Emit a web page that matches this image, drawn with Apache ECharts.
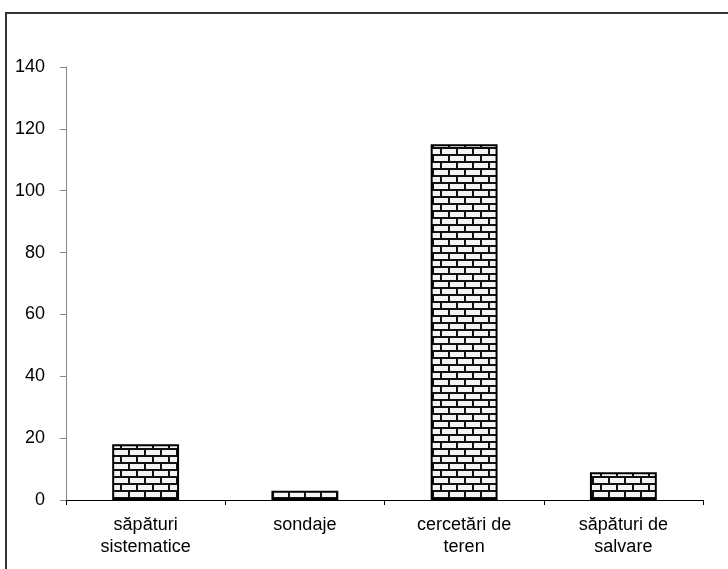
<!DOCTYPE html>
<html><head><meta charset="utf-8">
<script src="https://cdn.jsdelivr.net/npm/echarts@6/dist/echarts.min.js"></script>
<style>html,body{margin:0;padding:0;background:#fff}#c{width:728px;height:569px}</style>
</head><body><div id="c"></div>
<script>
var categories = ['săpături\nsistematice', 'sondaje', 'cercetări de\nteren', 'săpături de\nsalvare'];
var values = [18, 3, 115, 9];
var yTicks = [0, 20, 40, 60, 80, 100, 120, 140];

function brick() {
  var c = document.createElement('canvas');
  c.width = 16; c.height = 14;
  var g = c.getContext('2d');
  g.fillStyle = '#f4f4f4'; g.fillRect(0, 0, 16, 14);
  g.fillStyle = '#111';
  g.fillRect(0, 0, 16, 2);
  g.fillRect(0, 7, 16, 2);
  g.fillRect(0, 0, 2, 7);
  g.fillRect(8, 7, 2, 7);
  return c;
}

var chart = echarts.init(document.getElementById('c'), null, {renderer: 'canvas'});
chart.setOption({
  animation: false,
  grid: {left: 66, right: 25, top: 67, bottom: 69},
  graphic: [{
    type: 'rect', shape: {x: 6, y: 13, width: 760, height: 600},
    style: {fill: 'none', stroke: '#333', lineWidth: 2}, silent: true
  }],
  xAxis: {
    type: 'category', data: categories,
    axisLine: {lineStyle: {color: '#000', width: 1}},
    axisTick: {show: true, length: 5, lineStyle: {color: '#000'}},
    axisLabel: {color: '#000', fontFamily: 'Liberation Sans, Arial', fontSize: 18, lineHeight: 22, margin: 14, interval: 0}
  },
  yAxis: {
    type: 'value', min: yTicks[0], max: yTicks[yTicks.length - 1], interval: 20,
    axisLine: {show: true, lineStyle: {color: '#888', width: 1}},
    axisTick: {show: true, length: 6, lineStyle: {color: '#888'}},
    splitLine: {show: false},
    axisLabel: {color: '#000', fontFamily: 'Liberation Sans, Arial', fontSize: 18, margin: 21}
  },
  series: [{
    type: 'bar', data: values, barWidth: '42%',
    itemStyle: {color: {image: brick(), repeat: 'repeat'}, borderColor: '#000', borderWidth: 2}
  }]
});
</script></body></html>
